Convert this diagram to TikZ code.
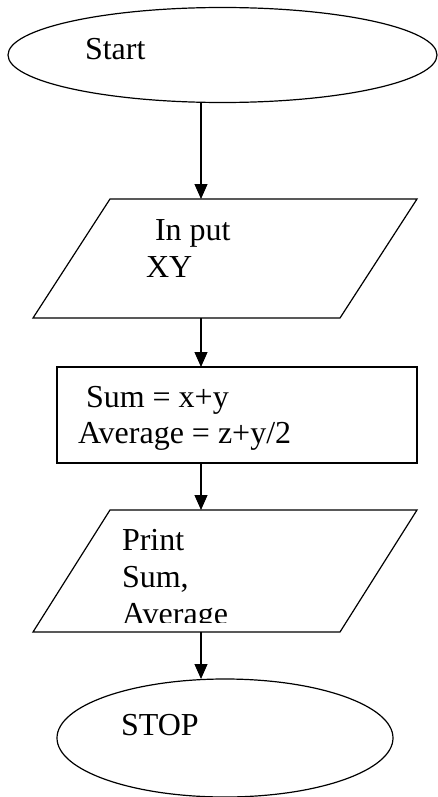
\documentclass[tikz,border=0pt]{standalone}
\usepackage{fontspec}
\setmainfont{Liberation Serif}
\usetikzlibrary{shapes.geometric,arrows.meta}
\begin{document}
\begin{tikzpicture}[x=1pt,y=-1pt,
  line width=1.2pt,
  every node/.style={inner sep=0pt, outer sep=0pt},
  term/.style={draw, ellipse},
  iobox/.style={rectangle, minimum width=307pt},
  proc/.style={draw, rectangle},
  txt/.style={anchor=base west, font=\fontsize{32}{36}\selectfont},
  flow/.style={-{Triangle[length=15pt,width=13pt]}}]
\useasboundingbox (0,0) rectangle (438,797);
\coordinate (axis) at (201,0);
% shapes
\node[term, minimum width=429pt, minimum height=95pt] (start) at (222.5,55) {};
\node[iobox, minimum height=119pt] (input) at (225,258.5) {};
\node[proc, minimum width=360pt, minimum height=96pt] (calc) at (237,415) {};
\node[iobox, minimum height=122pt] (print) at (225,571) {};
\node[term, minimum width=336pt, minimum height=118pt] (stop) at (225,738) {};
\foreach \n in {input,print}{
  \draw ([xshift=38.5pt]\n.north west) -- ([xshift=38.5pt]\n.north east)
     -- ([xshift=-38.5pt]\n.south east) -- ([xshift=-38.5pt]\n.south west) -- cycle;
}
% texts
\node[txt] (tstart) at (85,60) {Start};
\node[txt] (tin1) at (155,240) {In put};
\node[txt] (tin2) at (146,277) {XY};
\node[txt] (tsum) at (86,407) {Sum = x+y};
\node[txt] (tavg) at (78,443) {Average = z+y/2};
\node[txt] (tpr1) at (122,550) {Print};
\node[txt] (tpr2) at (122,587) {Sum,};
\begin{scope}
  \clip (100,595) rectangle (330,622);
  \node[txt] (tpr3) at (122,624) {Average};
\end{scope}
\node[txt] (tstop) at (121,735) {STOP};
% connectors
\draw[flow] (start.south -| axis) -- (input.north -| axis);
\draw[flow] (input.south -| axis) -- (calc.north -| axis);
\draw[flow] (calc.south -| axis) -- (print.north -| axis);
\draw[flow] (print.south -| axis) -- (stop.north -| axis);
\end{tikzpicture}
\end{document}
